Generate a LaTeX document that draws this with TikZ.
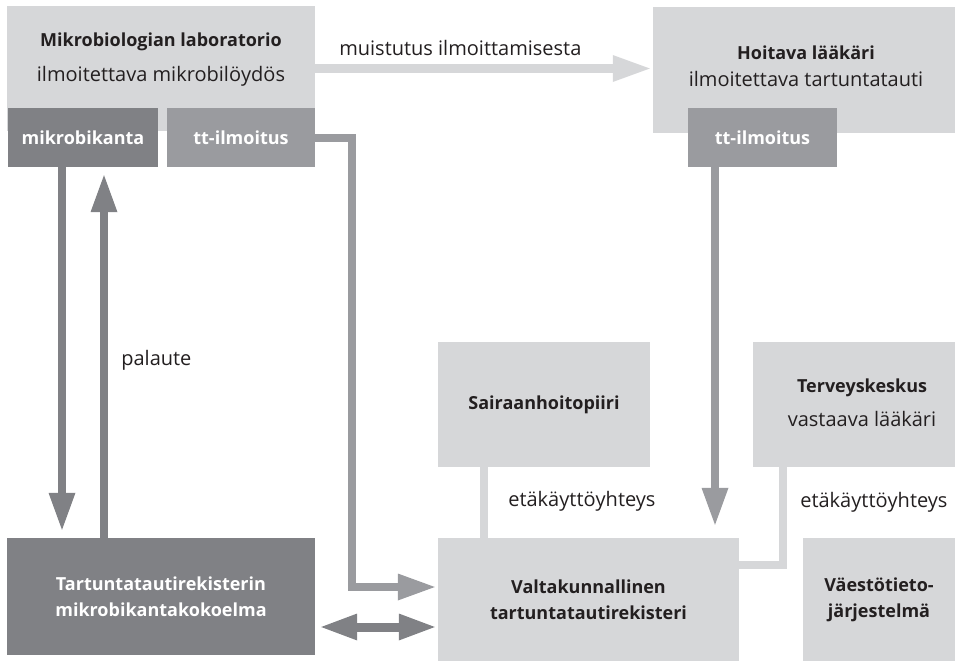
\documentclass[tikz,border=0pt]{standalone}
\usepackage{fontspec}
\setmainfont{Open Sans}
\usetikzlibrary{arrows.meta,positioning}

\definecolor{lite}{RGB}{214,215,217}
\definecolor{mid}{RGB}{154,155,159}
\definecolor{dark}{RGB}{128,129,133}
\definecolor{ink}{RGB}{35,31,32}

\newcommand{\diasize}{\fontsize{20}{24}\selectfont}
\newcommand{\boldsize}{\fontsize{18}{22}\selectfont\bfseries}

\tikzset{
  litebox/.style={fill=lite, text=ink, inner sep=0pt, align=center},
  midbox/.style={fill=mid, text=white, font=\boldsize, inner sep=0pt, align=center},
  darkbox/.style={fill=dark, text=white, font=\boldsize, inner sep=0pt, align=center},
  tip/.style={-{Triangle[length=37pt,width=27pt,line width=0pt]}},
  flow/.style={line width=8pt, line cap=butt, line join=miter},
}

\begin{document}
\begin{tikzpicture}[x=1pt,y=-1pt,font=\diasize]
  \useasboundingbox (0,0) rectangle (955,661);

  % laboratorio
  \node[litebox, minimum width=308pt, minimum height=125pt] (lab) at (161,68.5) {};
  \node[text=ink, align=center] (labtext) at (161,60) {{\boldsize Mikrobiologian laboratorio}\\[11pt]ilmoitettava mikrobilöydös};
  \node[darkbox, minimum width=150pt, minimum height=59pt] (mikro) at (83,137.5) {mikrobikanta};
  \node[midbox, minimum width=148pt, minimum height=59pt] (ttlab) at (241,137.5) {tt-ilmoitus};

  % hoitava laakari
  \node[litebox, minimum width=302pt, minimum height=126pt] (hoit) at (804,70) {};
  \node[text=ink, align=center] (hoittext) at (806,66) {{\boldsize Hoitava lääkäri}\\[3pt]ilmoitettava tartuntatauti};
  \node[midbox, minimum width=149pt, minimum height=59pt] (ttdoc) at (762.5,137.5) {tt-ilmoitus};

  % alarivi
  \node[litebox, font=\boldsize, minimum width=212pt, minimum height=125pt] (sair) at (544,404.5) {Sairaanhoitopiiri};
  \node[litebox, minimum width=202pt, minimum height=125pt] (terv) at (854,404.5) {};
  \node[text=ink, align=center] (tervtext) at (862,403) {{\boldsize Terveyskeskus}\\[10pt]vastaava lääkäri};
  \node[litebox, font=\boldsize, minimum width=301pt, minimum height=123pt] (valta) at (588.5,599.5) {Valtakunnallinen\\[4pt]tartuntatautirekisteri};
  \node[litebox, font=\boldsize, minimum width=152pt, minimum height=123pt] (vaesto) at (879,599.5) {Väestötieto-\\[4pt]järjestelmä};
  \node[darkbox, minimum width=308pt, minimum height=117pt] (tart) at (161,596.5) {Tartuntatautirekisterin\\[4pt]mikrobikantakokoelma};

  % nuolet
  \draw[flow, tip, lite, shorten >=3pt] (lab.east) -- (lab.east -| hoit.west)
    node[pos=0.43, above=5pt, text=ink] (muist) {muistutus ilmoittamisesta};
  \draw[flow, tip, dark, shorten >=8pt] ([xshift=-21pt]mikro.south) -- ([xshift=-21pt]mikro.south |- tart.north);
  \draw[flow, tip, dark, shorten >=8pt] ([xshift=-57pt]tart.north) -- ([xshift=-57pt]tart.north |- mikro.south)
    node[pos=0.48, right=10pt, text=ink] (pal) {palaute};
  \draw[flow, tip, mid, shorten >=3pt] (ttlab.east) -- ++(37,0) |- ([yshift=12.5pt]valta.west);
  \draw[flow, tip, mid, shorten >=13pt] ([xshift=-47.5pt]ttdoc.south) -- ([xshift=-47.5pt]ttdoc.south |- valta.north);
  \draw[line width=9pt, dark, {Triangle[length=36pt,width=27pt,line width=0pt]}-{Triangle[length=36pt,width=27pt,line width=0pt]}, shorten <=6pt, shorten >=3pt]
    ([yshift=-30.5pt]tart.east) -- ([yshift=-30.5pt]tart.east -| valta.west);

  % etakayttoyhteydet
  \draw[flow, lite] ([xshift=-60pt]sair.south) -- ([xshift=-60pt]sair.south |- valta.north)
    node[pos=0.49, right=17pt, text=ink] (eta1) {etäkäyttöyhteys};
  \draw[flow, lite] ([xshift=-71pt]terv.south) |- ([yshift=34.5pt]valta.east)
    node[pos=0.18, right=10pt, text=ink] (eta2) {etäkäyttöyhteys};
\end{tikzpicture}
\end{document}
